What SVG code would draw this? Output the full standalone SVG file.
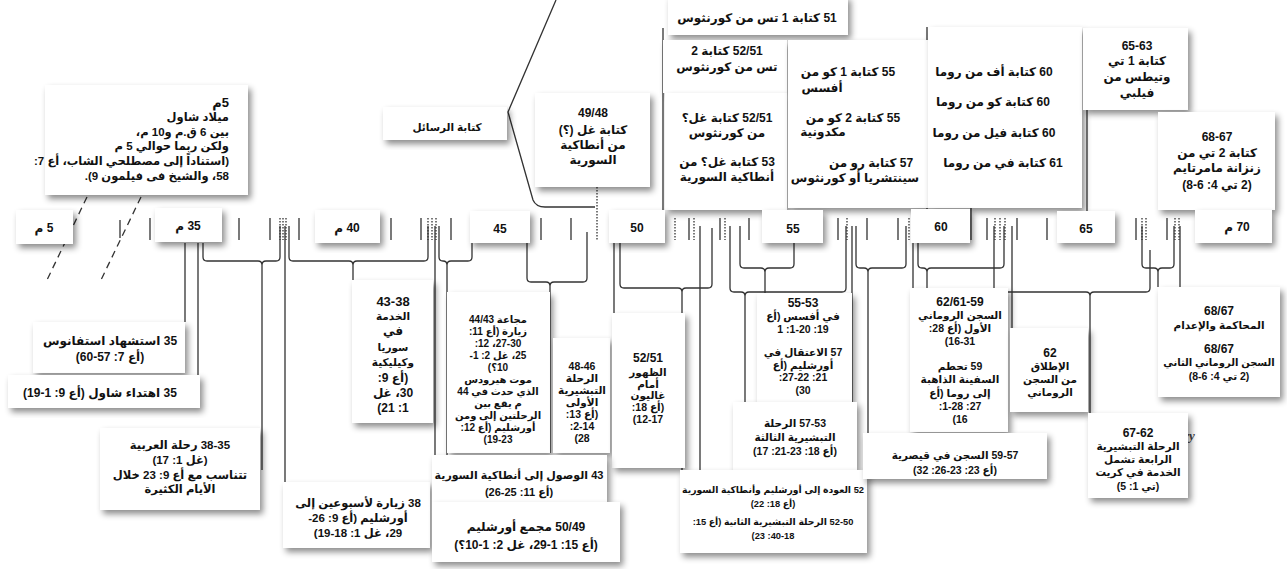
<svg xmlns="http://www.w3.org/2000/svg" width="1287" height="569" viewBox="0 0 1287 569">
<style>
.bx{fill:#fff;filter:url(#sh)}
.t{font-family:"Liberation Sans","DejaVu Sans",sans-serif;font-weight:bold;font-size:12px;fill:#111;direction:rtl;text-anchor:middle}
.r{text-anchor:start;font-size:11.5px}
.m{font-size:11.5px}
.m2{font-size:11px}
.s{font-size:10.5px}
.xs{font-size:10px}
.xxs{font-size:9.3px}
.big{font-size:13px}
.ln{fill:none;stroke:#333;stroke-width:1.3}
.dt{stroke-dasharray:1.5 1.5}
.ds{stroke-dasharray:7 5}
.art{font-family:"Liberation Serif",serif;font-style:italic;font-weight:bold;font-size:13px;fill:#444}
</style>
<defs>
<filter id="sh" x="-20%" y="-20%" width="150%" height="150%">
<feDropShadow dx="3" dy="4" stdDeviation="3" flood-color="#000" flood-opacity="0.45"/>
</filter>
</defs>
<rect width="1287" height="569" fill="#fff"/>
<g id="connectors" class="ln">
<path class="ds" d="M87,197 L46,282 M141,197 L100,282"/>
<path d="M556,0 L508,112 L533,200 Q536,207 545,207 L595,207"/>
<path class="dt" d="M597,187 V240"/>
<path d="M663,28 V212 M927,27 V210 M971,205 V240 M1087,110 V243"/>
<path d="M120,220 V238 M150,218 V240 M239,218 V240 M270,218 V240 M299,218 V240 M391,218 V240 M421,218 V240 M451,218 V240 M541,218 V240 M571,218 V240 M689,218 V240 M720,218 V240 M749,218 V240 M838,218 V240 M867,218 V240 M898,218 V240 M987,218 V240 M1017,218 V240 M1047,218 V240 M1136,218 V240 M1167,218 V240"/>
<path class="dt" d="M280,218 V240 M283,218 V240 M286,218 V240 M428,218 V240 M432,218 V240 M436,218 V240 M675,218 V240 M694,218 V240 M725,218 V240 M847,218 V240 M909,218 V240 M995,218 V240 M1000,218 V240 M1005,218 V240 M1142,218 V240 M1146,218 V240 M1175,218 V240 M1179,218 V240"/>
<path d="M185,243 V322 M198,243 V375 M285,226 V482 M435,226 V457 M614,243 V313 M700,226 V473 M852,226 V402 M913,226 V290 M1012,226 V328 M1180,226 V287"/>
<path d="M203,243 V257 Q203,261 207,261 H258 Q262,261 262,265 M280,226 V257 Q280,261 276,261 H266 Q262,261 262,265 V470"/>
<path d="M289,226 V257 Q289,261 293,261 H349 Q353,261 353,265 M428,226 V257 Q428,261 424,261 H357 Q353,261 353,265 V283"/>
<path d="M439,226 V257 Q439,261 443,261 Q447,261 447,265 M472,243 V257 Q472,261 468,261 H451 Q447,261 447,265 V455"/>
<path d="M527,243 V278 Q527,282 531,282 H546 Q550,282 550,286 M587,232 V278 Q587,282 583,282 H554 Q550,282 550,286 V453"/>
<path d="M620,243 V284 Q620,288 624,288 H678 Q682,288 682,292 M712,228 V284 Q712,288 708,288 H686 Q682,288 682,292 V470"/>
<path d="M730,226 V288 Q730,292 734,292 H741 Q745,292 745,296 M846,226 V288 Q846,292 842,292 H749 Q745,292 745,296 V470"/>
<path d="M740,226 V264 Q740,268 744,268 H761 Q765,268 765,272 M794,243 V264 Q794,268 790,268 H769 Q765,268 765,272 V293"/>
<path d="M856,226 V264 Q856,268 860,268 H864 Q868,268 868,272 M906,226 V264 Q906,268 902,268 H872 Q868,268 868,272 V433"/>
<path d="M918,243 V264 Q918,268 922,268 H923 Q927,268 927,272 M1004,226 V264 Q1004,268 1000,268 H931 Q927,268 927,272 V288"/>
<path d="M994,226 V288 Q994,292 998,292 H1086 Q1090,292 1090,296 M1150,250 V288 Q1150,292 1146,292 H1094 Q1090,292 1090,296 V413"/>
<path d="M1142,226 V264 Q1142,268 1146,268 H1154 Q1158,268 1158,272 M1174,226 V264 Q1174,268 1170,268 H1162 Q1158,268 1158,272 V287"/>
</g>
<text class="art" x="1184" y="440">ry</text>

<g id="n-birth"><rect class="bx" x="45" y="85" width="203" height="110"/>
<text class="t r big" x="229" y="107">5م</text>
<text class="t r" x="229" y="121">ميلاد شاول</text>
<text class="t r" x="229" y="136">بين 6 ق.م و10 م،</text>
<text class="t r" x="229" y="150">ولكن ربما حوالي 5 م</text>
<text class="t r" x="229" y="165">(استناداً إلى مصطلحي الشاب، أع 7:</text>
<text class="t r" x="229" y="180">58، والشيخ فى فيلمون 9).</text>
</g>
<g id="n-letters"><rect class="bx" x="383" y="107" width="124" height="33"/>
<text class="t s" x="447" y="131">كتابة الرسائل</text></g>
<g id="n-gal"><rect class="bx" x="535" y="93" width="115" height="94"/>
<text class="t" x="593" y="117">49/48</text>
<text class="t" x="593" y="134">كتابة غل (؟)</text>
<text class="t" x="593" y="149">من أنطاكية</text>
<text class="t" x="593" y="164">السورية</text></g>
<g id="n-1thes"><rect class="bx" x="668" y="-4" width="180" height="39"/>
<text class="t" x="757" y="22">51 كتابة 1 تس من كورنثوس</text></g>
<g id="n-2thes"><rect class="bx" x="663" y="40" width="124" height="53"/>
<text class="t" x="727" y="55">52/51 كتابة 2</text>
<text class="t" x="727" y="71">تس من كورنثوس</text></g>
<g id="n-galq"><rect class="bx" x="665" y="93" width="122" height="117"/>
<text class="t" x="727" y="122">52/51 كتابة غل؟</text>
<text class="t" x="727" y="137">من كورنثوس</text>
<text class="t" x="727" y="166">53 كتابة غل؟ من</text>
<text class="t" x="727" y="181">أنطاكية السورية</text></g>
<g id="n-cor"><rect class="bx" x="788" y="40" width="140" height="168"/>
<text class="t" x="848" y="76">55 كتابة 1 كو من</text>
<text class="t" x="822" y="92">أفسس</text>
<text class="t" x="853" y="122">55 كتابة 2 كو من</text>
<text class="t" x="823" y="136">مكدونية</text>
<text class="t" x="871" y="167">57 كتابة رو من</text>
<text class="t" x="855" y="182">سينتشريا أو كورنثوس</text></g>
<g id="n-prison"><rect class="bx" x="928" y="27" width="154" height="181"/>
<text class="t" x="994" y="76">60 كتابة أف من روما</text>
<text class="t" x="993" y="106">60 كتابة كو من روما</text>
<text class="t" x="994" y="137">60 كتابة فيل من روما</text>
<text class="t" x="1003" y="167">61 كتابة في من روما</text></g>
<g id="n-1tim"><rect class="bx" x="1083" y="28" width="105" height="82"/>
<text class="t" x="1137" y="50">65-63</text>
<text class="t" x="1137" y="65">كتابة 1 تي</text>
<text class="t" x="1137" y="81">وتيطس من</text>
<text class="t" x="1137" y="97">فيلبي</text></g>
<g id="n-2tim"><rect class="bx" x="1158" y="112" width="117" height="98"/>
<text class="t" x="1217" y="141">68-67</text>
<text class="t" x="1217" y="157">كتابة 2 تي من</text>
<text class="t" x="1217" y="172">زنزانة مامرتايم</text>
<text class="t" x="1217" y="189">(2 تي 4: 6-8)</text></g>

<g id="y5"><rect class="bx" x="16" y="210" width="57" height="34"/><text class="t" x="44" y="232">5 م</text></g>
<g id="y35"><rect class="bx" x="155" y="208" width="67" height="34"/><text class="t" x="188" y="230">35 م</text></g>
<g id="y40"><rect class="bx" x="315" y="210" width="65" height="33"/><text class="t" x="347" y="232">40 م</text></g>
<g id="y45"><rect class="bx" x="470" y="211" width="60" height="32"/><text class="t" x="500" y="233">45</text></g>
<g id="y50"><rect class="bx" x="609" y="210" width="56" height="33"/><text class="t" x="637" y="232">50</text></g>
<g id="y55"><rect class="bx" x="762" y="210" width="61" height="33"/><text class="t" x="793" y="233">55</text></g>
<g id="y60"><rect class="bx" x="911" y="209" width="59" height="34"/><text class="t" x="941" y="231">60</text></g>
<g id="y65"><rect class="bx" x="1057" y="211" width="58" height="32"/><text class="t" x="1086" y="233">65</text></g>
<g id="y70"><rect class="bx" x="1195" y="210" width="77" height="33"/><text class="t" x="1237" y="231">70 م</text></g>

<g id="n-stephen"><rect class="bx" x="33" y="322" width="152" height="51"/>
<text class="t" x="110" y="345">35 استشهاد استفانوس</text>
<text class="t" x="110" y="361">(أع 7: 57-60)</text></g>
<g id="n-conv"><rect class="bx" x="8" y="375" width="192" height="33"/>
<text class="t" x="100" y="397">35 اهتداء شاول (أع 9: 1-19)</text></g>
<g id="n-arabia"><rect class="bx" x="100" y="428" width="160" height="82"/>
<text class="t m" x="180" y="449">38-35 رحلة العربية</text>
<text class="t m" x="180" y="464">(غل 1: 17)</text>
<text class="t m" x="180" y="479">تتناسب مع أع 9: 23 خلال</text>
<text class="t m" x="180" y="493">الأيام الكثيرة</text></g>
<g id="n-visit"><rect class="bx" x="283" y="482" width="147" height="66"/>
<text class="t m" x="358" y="507">38 زيارة لأسبوعين إلى</text>
<text class="t m" x="358" y="522">أورشليم (أع 9: 26-</text>
<text class="t m" x="358" y="537">29، غل 1: 18-19)</text></g>
<g id="n-syria"><rect class="bx" x="352" y="280" width="81" height="143"/>
<text class="t big" x="393" y="306">43-38</text>
<text class="t s" x="393" y="320">الخدمة</text>
<text class="t" x="393" y="335">في</text>
<text class="t s" x="393" y="351">سوريا</text>
<text class="t s" x="393" y="366">وكيليكية</text>
<text class="t" x="393" y="382">(أع 9:</text>
<text class="t" x="393" y="397">30، غل</text>
<text class="t" x="393" y="412">1: 21)</text></g>
<g id="n-famine"><rect class="bx" x="447" y="292" width="103" height="161"/>
<text class="t xs" x="498" y="323">مجاعة 44/43</text>
<text class="t xs" x="498" y="335">زيارة (أع 11:</text>
<text class="t xs" x="498" y="347">27-30، 12:</text>
<text class="t xs" x="498" y="359">25، غل 2: 1-</text>
<text class="t xs" x="498" y="371">10؟)</text>
<text class="t xs" x="498" y="383">موت هيرودس</text>
<text class="t xs" x="498" y="395">الذي حدث في 44</text>
<text class="t xs" x="498" y="407">م يقع بين</text>
<text class="t xs" x="498" y="419">الرحلتين إلى ومن</text>
<text class="t xs" x="498" y="431">أورشليم (أع 12:</text>
<text class="t xs" x="498" y="443">19-23)</text></g>
<g id="n-first"><rect class="bx" x="553" y="338" width="57" height="115"/>
<text class="t s" x="582" y="370">48-46</text>
<text class="t s" x="582" y="382">الرحلة</text>
<text class="t s" x="582" y="394">التبشيرية</text>
<text class="t s" x="582" y="406">الأولى</text>
<text class="t s" x="582" y="418">(أع 13:</text>
<text class="t s" x="582" y="430">2-14:</text>
<text class="t s" x="582" y="442">28)</text></g>
<g id="n-gallio"><rect class="bx" x="612" y="313" width="73" height="155"/>
<text class="t" x="648" y="362">52/51</text>
<text class="t s" x="648" y="376">الظهور</text>
<text class="t s" x="648" y="388">أمام</text>
<text class="t s" x="648" y="399">غاليون</text>
<text class="t s" x="648" y="411">(أع 18:</text>
<text class="t s" x="648" y="423">12-17)</text></g>
<g id="n-antioch"><rect class="bx" x="432" y="455" width="175" height="47"/>
<text class="t m2" x="519" y="479">43 الوصول إلى أنطاكية السورية</text>
<text class="t m2" x="519" y="496">(أع 11: 25-26)</text></g>
<g id="n-council"><rect class="bx" x="432" y="502" width="188" height="60"/>
<text class="t" x="526" y="531">50/49 مجمع أورشليم</text>
<text class="t" x="526" y="549">(أع 15: 1-29، غل 2: 1-10؟)</text></g>
<g id="n-ephesus"><rect class="bx" x="757" y="293" width="95" height="109"/>
<text class="t" x="803" y="307">55-53</text>
<text class="t s" x="803" y="320">في أفسس (أع</text>
<text class="t s" x="803" y="333">19: 1-20: 1</text>
<text class="t s" x="803" y="356">57 الاعتقال في</text>
<text class="t s" x="803" y="369">أورشليم (أع</text>
<text class="t s" x="803" y="381">21: 27-22:</text>
<text class="t s" x="803" y="394">30)</text></g>
<g id="n-third"><rect class="bx" x="733" y="402" width="124" height="68"/>
<text class="t s" x="795" y="427">57-53 الرحلة</text>
<text class="t s" x="795" y="441">التبشيرية الثالثة</text>
<text class="t s" x="795" y="455">(أع 18: 23-21: 17)</text></g>
<g id="n-second"><rect class="bx" x="680" y="470" width="187" height="83"/>
<text class="t xxs" x="773" y="493">52 العودة إلى أورشليم وأنطاكية السورية</text>
<text class="t xxs" x="773" y="507">(أع 18: 22)</text>
<text class="t xxs" x="773" y="525">52-50 الرحلة التبشيرية الثانية (أع 15:</text>
<text class="t xxs" x="773" y="539">40-18: 23)</text></g>
<g id="n-rome1"><rect class="bx" x="910" y="288" width="98" height="144"/>
<text class="t" x="960" y="306">62/61-59</text>
<text class="t s" x="960" y="319">السجن الروماني</text>
<text class="t s" x="960" y="332">الأول (أع 28:</text>
<text class="t s" x="960" y="345">16-31)</text>
<text class="t s" x="960" y="370">59 تحطم</text>
<text class="t s" x="960" y="383">السفينة الذاهبة</text>
<text class="t s" x="960" y="397">إلى روما (أع</text>
<text class="t s" x="960" y="410">27: 1-28:</text>
<text class="t s" x="960" y="423">16)</text></g>
<g id="n-caesarea"><rect class="bx" x="863" y="433" width="184" height="46"/>
<text class="t s" x="955" y="459">59-57 السجن في قيصرية</text>
<text class="t s" x="955" y="474">(أع 23: 23-26: 32)</text></g>
<g id="n-release"><rect class="bx" x="1010" y="328" width="78" height="84"/>
<text class="t" x="1050" y="357">62</text>
<text class="t s" x="1050" y="370">الإطلاق</text>
<text class="t s" x="1050" y="383">من السجن</text>
<text class="t s" x="1050" y="396">الروماني</text></g>
<g id="n-fourth"><rect class="bx" x="1088" y="413" width="100" height="85"/>
<text class="t" x="1138" y="437">67-62</text>
<text class="t s" x="1138" y="450">الرحلة التبشيرية</text>
<text class="t s" x="1138" y="463">الرابعة تشمل</text>
<text class="t s" x="1138" y="476">الخدمة في كريت</text>
<text class="t s" x="1138" y="490">(تي 1: 5)</text></g>
<g id="n-rome2"><rect class="bx" x="1158" y="287" width="122" height="110"/>
<text class="t" x="1219" y="315">68/67</text>
<text class="t s" x="1219" y="329">المحاكمة والإعدام</text>
<text class="t" x="1219" y="353">68/67</text>
<text class="t xs" x="1219" y="366">السجن الروماني الثاني</text>
<text class="t s" x="1219" y="380">(2 تي 4: 6-8)</text></g>
</svg>
